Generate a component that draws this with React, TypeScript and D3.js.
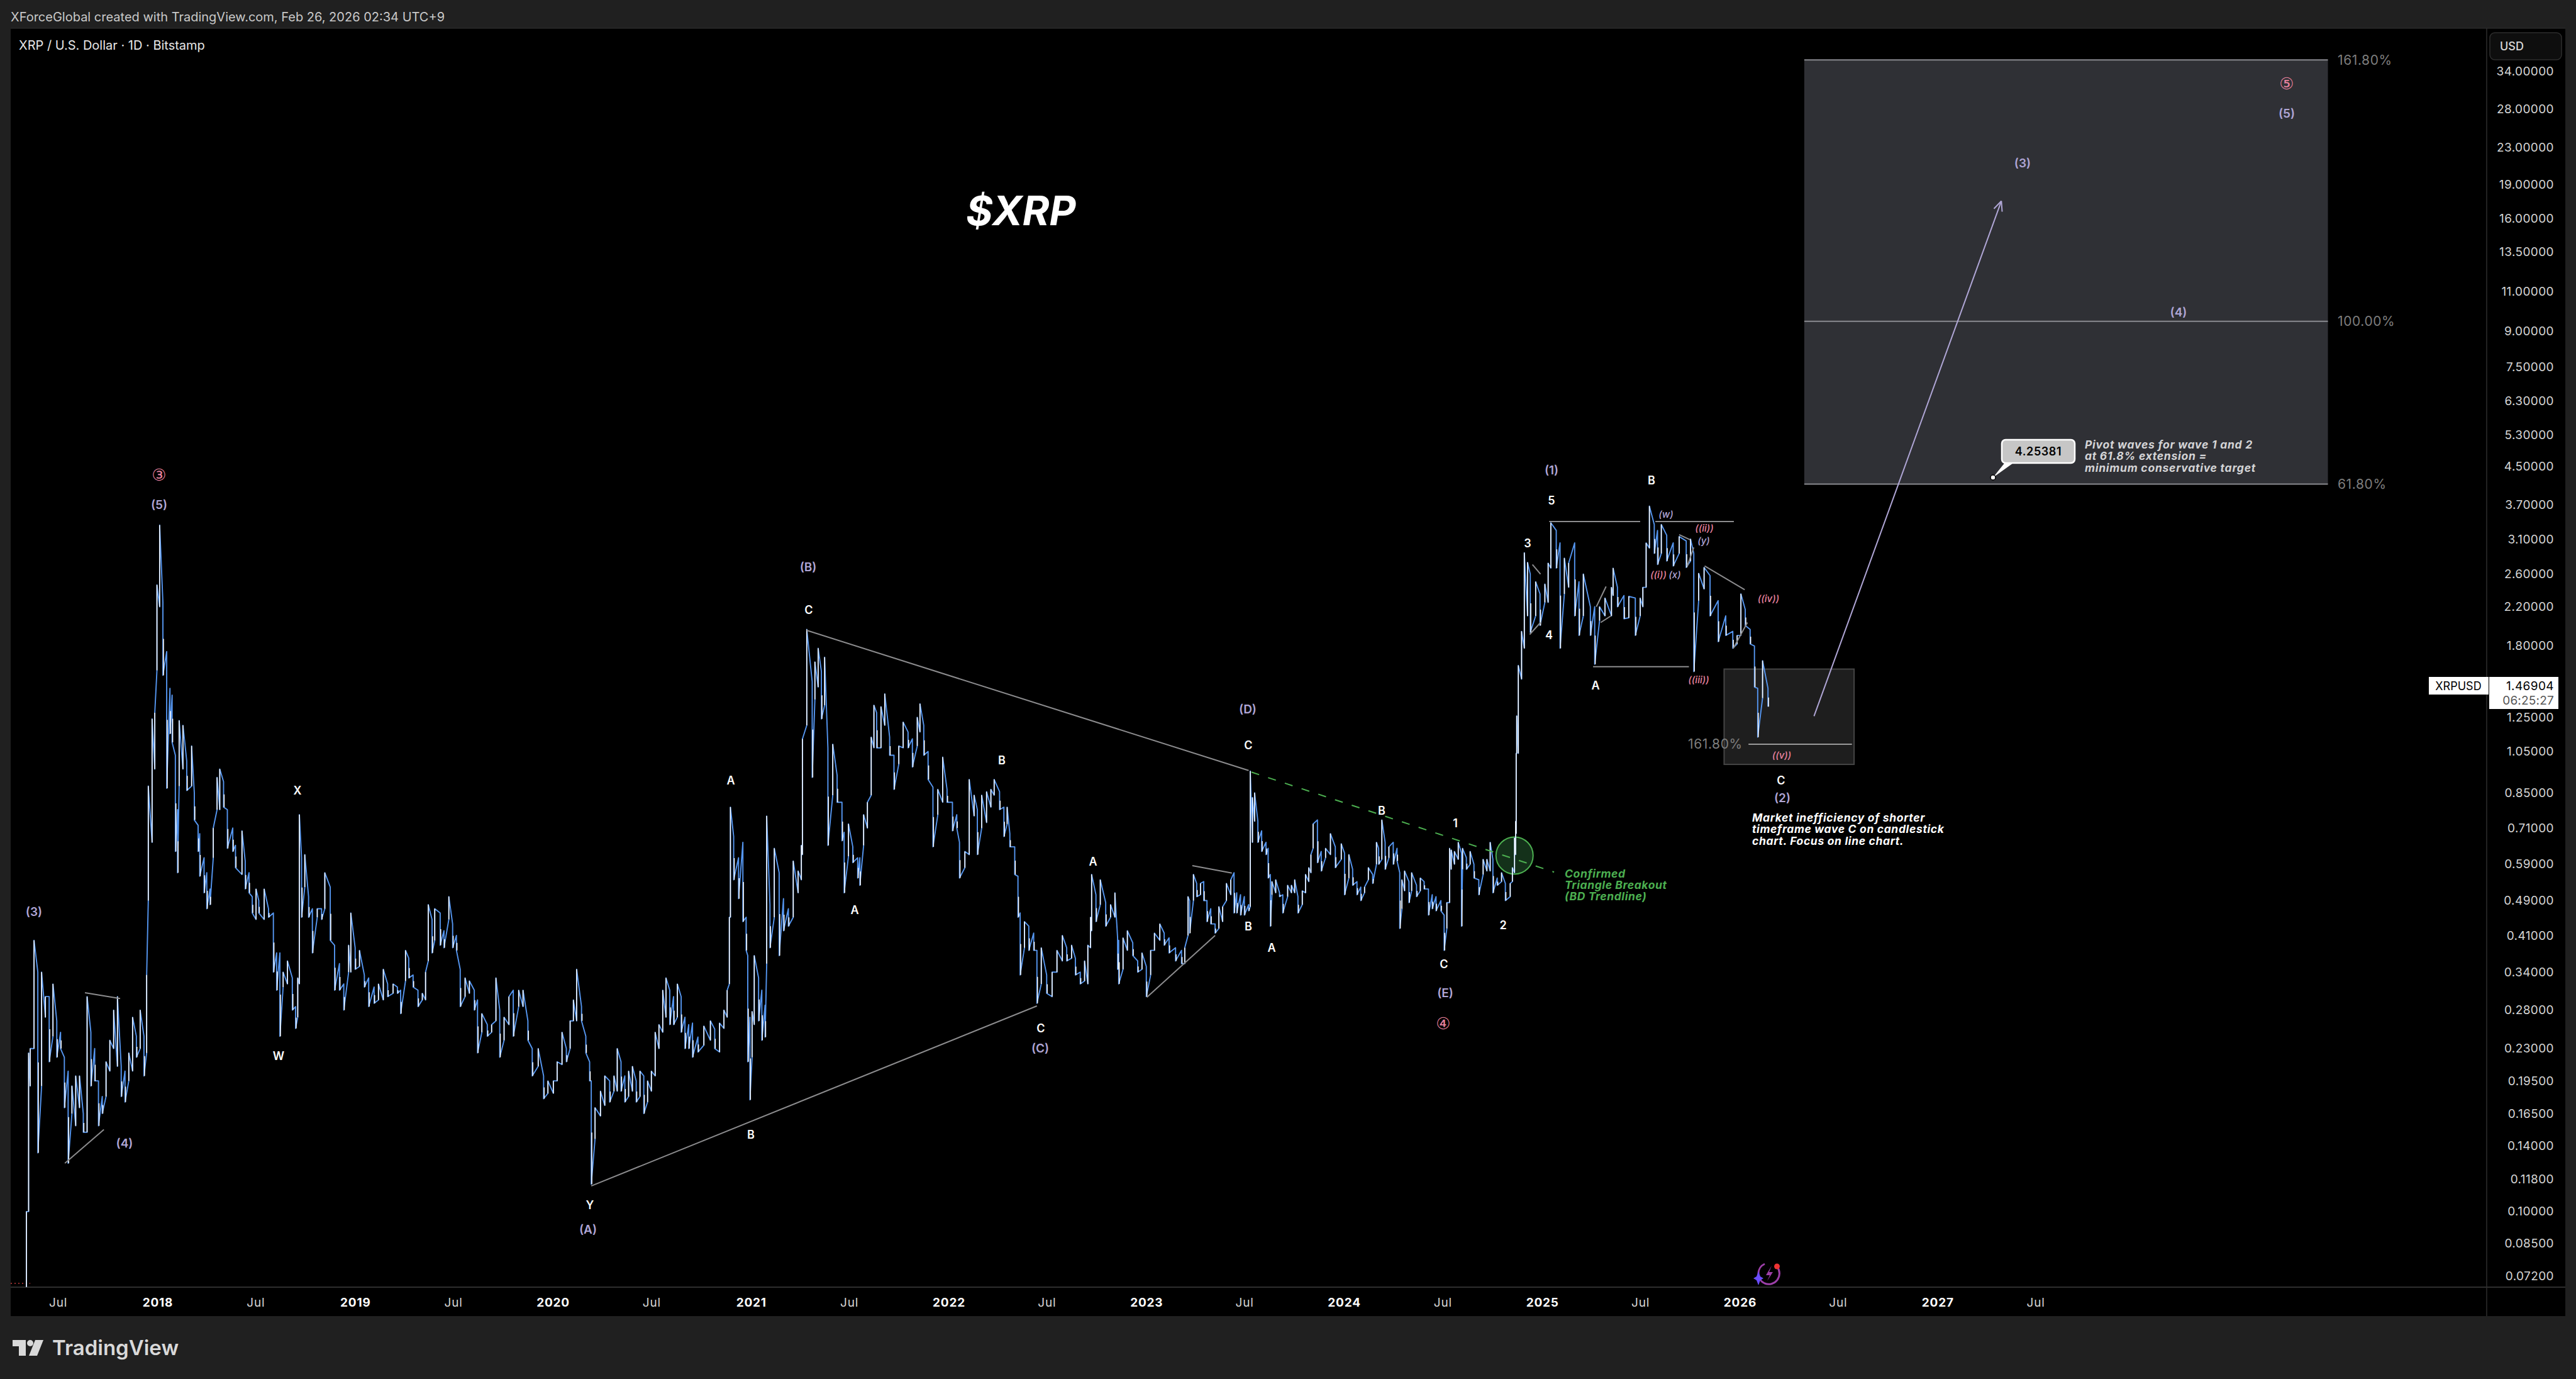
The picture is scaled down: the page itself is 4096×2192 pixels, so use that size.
import React from "react";
import * as d3 from "d3";

// ---------- price data: [days since start of series, high, low] ----------
type Bar = [number, number, number];
const bars2017: Bar[] = [[0,.1,.068],[4,.225,.1],[7,.23,.19],[14,.40,.23],[21,.34,.135],[28,.34,.19],[35,.30,.27],[42,.30,.215],[49,.32,.245],[56,.265,.22],[63,.25,.23],[70,.22,.17],[77,.205,.128],[84,.19,.165],[91,.2,.155],[98,.2,.17],[105,.165,.15],[112,.30,.15],[119,.25,.19],[126,.23,.195],[133,.195,.155],[140,.18,.165],[147,.215,.18],[154,.24,.205],[161,.28,.23],[168,.30,.21],[175,.21,.18],[182,.205,.175],[189,.225,.195],[196,.27,.205],[203,.245,.22],[210,.28,.23],[217,.245,.2],[222,.335,.225],[225,.88,.49],[232,1.24,.66],[237,1.28,.96],[241,2.46,1.59],[246,3.34,2.2]];
const bars2018: Bar[] = [[252,2.25,1.55],[259,1.75,.87],[265,1.45,1.15],[269,1.4,1.1],[275,1.03,.63],[279,.78,.565],[282,1.23,.88],[289,1.2,.96],[296,1.0,.86],[305,1.08,.88],[310,.85,.74],[317,.72,.63],[320,.69,.555],[328,.61,.51],[333,.565,.47],[339,.52,.48],[345,.71,.61],[352,.92,.78],[357,.96,.78],[364,.9,.79],[371,.78,.64],[381,.71,.63],[386,.65,.58],[398,.70,.56],[404,.60,.52],[411,.565,.51],[417,.50,.46],[424,.52,.445],[429,.49,.46],[439,.52,.445],[447,.47,.45],[456,.46,.34],[462,.375,.31],[468,.375,.245],[474,.34,.315],[482,.36,.32],[491,.33,.28],[497,.285,.255],[501,.33,.27],[504,.76,.32],[508,.61,.45],[514,.62,.525],[521,.5,.45],[528,.47,.375],[537,.47,.45],[545,.47,.445],[551,.565,.47],[561,.525,.40],[569,.39,.31],[578,.355,.31],[586,.32,.28],[595,.39,.34],[599,.46,.34],[607,.385,.345]];
const bars2019: Bar[] = [[615,.38,.35],[624,.335,.315],[632,.33,.285],[642,.315,.29],[650,.32,.295],[659,.345,.295],[667,.32,.30],[677,.32,.305],[685,.315,.305],[691,.31,.275],[700,.38,.325],[706,.365,.33],[714,.335,.315],[723,.31,.285],[731,.305,.295],[737,.34,.295],[742,.48,.36],[749,.445,.375],[754,.47,.40],[764,.46,.39],[771,.42,.385],[780,.50,.445],[787,.435,.385],[794,.41,.38],[801,.345,.285],[810,.33,.30],[818,.325,.305],[827,.31,.28],[833,.295,.225],[841,.275,.25],[851,.26,.245],[859,.26,.25],[867,.33,.265],[874,.28,.22],[882,.27,.24],[891,.30,.26],[899,.31,.245],[909,.31,.285],[917,.31,.285],[926,.265,.24],[934,.23,.20],[945,.23,.21],[955,.20,.178],[963,.195,.183]];
const bars2020: Bar[] = [[973,.195,.183],[980,.215,.195],[989,.25,.212],[997,.23,.215],[1004,.265,.23],[1010,.295,.265],[1016,.345,.265],[1025,.285,.265],[1033,.245,.225],[1040,.215,.195],[1043,.195,.115],[1050,.17,.145],[1060,.185,.163],[1068,.20,.172],[1077,.195,.175],[1085,.20,.185],[1091,.23,.185],[1098,.215,.185],[1105,.20,.175],[1112,.205,.18],[1119,.21,.185],[1126,.195,.175],[1133,.205,.18],[1140,.20,.165],[1147,.195,.175],[1154,.205,.185],[1161,.25,.20],[1168,.26,.23],[1175,.31,.25],[1181,.33,.27],[1188,.31,.26],[1195,.30,.26],[1202,.32,.27],[1209,.30,.25],[1216,.27,.23],[1223,.26,.23],[1230,.262,.22],[1240,.244,.226],[1251,.258,.234],[1263,.265,.24],[1271,.254,.23],[1280,.262,.226],[1288,.28,.255],[1294,.31,.27],[1298,.45,.32],[1300,.79,.45],[1306,.68,.545],[1315,.61,.495],[1323,.66,.44],[1329,.45,.38],[1332,.37,.215],[1336,.27,.177],[1340,.278,.22]];
const bars2021: Bar[] = [[1344,.37,.26],[1352,.33,.265],[1358,.31,.24],[1364,.287,.244],[1367,.755,.355],[1373,.48,.385],[1381,.64,.45],[1390,.565,.37],[1398,.495,.42],[1407,.47,.43],[1416,.60,.45],[1425,.57,.51],[1431,.65,.545],[1433,1.12,.62],[1441,1.96,1.2],[1451,1.5,.92],[1456,1.66,1.37],[1462,1.78,1.46],[1468,1.58,1.24],[1474,1.7,1.33],[1480,1.07,.65],[1489,1.09,.84],[1497,.93,.81],[1506,.81,.665],[1510,.695,.51],[1518,.725,.615],[1526,.645,.595],[1535,.61,.55],[1539,.61,.53],[1546,.76,.65],[1553,.81,.71],[1560,1.13,.84],[1565,1.33,1.07],[1570,1.28,1.07],[1578,1.32,1.07],[1585,1.41,1.2],[1594,1.13,1.03],[1602,1.03,.865],[1611,1.08,.985],[1619,1.22,1.07],[1628,1.16,1.07],[1636,1.12,.97],[1645,1.25,1.08],[1650,1.34,1.16],[1657,1.2,1.03],[1665,1.05,.91],[1674,.875,.645],[1683,.865,.76],[1692,1.02,.81]];
const bars2022: Bar[] = [[1700,.865,.81],[1710,.81,.70],[1718,.76,.71],[1723,.66,.55],[1733,.63,.58],[1741,.91,.62],[1750,.84,.755],[1756,.78,.62],[1764,.84,.71],[1773,.855,.73],[1781,.865,.79],[1787,.91,.84],[1797,.855,.78],[1805,.79,.68],[1811,.79,.725],[1816,.69,.645],[1825,.645,.56],[1831,.555,.45],[1835,.46,.335],[1843,.44,.385],[1851,.43,.38],[1860,.415,.38],[1866,.38,.29],[1874,.385,.32],[1884,.335,.305],[1894,.34,.30],[1903,.38,.34],[1913,.41,.36],[1921,.385,.36],[1930,.39,.365],[1937,.365,.335],[1946,.34,.32],[1954,.36,.325],[1960,.39,.32],[1965,.45,.385],[1967,.56,.42],[1975,.505,.44],[1983,.545,.48],[1993,.485,.43],[2002,.48,.45],[2010,.51,.45],[2015,.405,.345],[2017,.40,.32],[2025,.405,.345],[2033,.42,.38],[2043,.395,.37],[2052,.36,.34]];
const bars2023: Bar[] = [[2060,.375,.345],[2068,.35,.30],[2076,.38,.335],[2083,.415,.38],[2093,.435,.40],[2101,.415,.39],[2110,.405,.375],[2122,.385,.36],[2133,.38,.355],[2139,.385,.355],[2145,.50,.41],[2148,.49,.415],[2155,.56,.49],[2161,.535,.50],[2168,.535,.505],[2174,.54,.49],[2180,.49,.44],[2187,.47,.435],[2195,.435,.415],[2202,.475,.425],[2209,.475,.44],[2216,.535,.49],[2224,.545,.505],[2230,.565,.46],[2235,.51,.46],[2242,.505,.455],[2249,.50,.455],[2257,.48,.465],[2260,.95,.475],[2264,.83,.66],[2268,.85,.735],[2274,.735,.66],[2281,.70,.63],[2289,.66,.62],[2293,.64,.55],[2297,.56,.43],[2300,.54,.505],[2307,.545,.51],[2314,.51,.50],[2320,.505,.46],[2329,.53,.50],[2336,.53,.51],[2342,.545,.51],[2348,.50,.46],[2356,.515,.48],[2362,.56,.51],[2368,.58,.54],[2372,.62,.565],[2376,.725,.64],[2384,.74,.595],[2391,.63,.57],[2399,.64,.61]];
const bars2024: Bar[] = [[2408,.69,.62],[2417,.645,.58],[2428,.655,.605],[2434,.625,.505],[2442,.62,.55],[2449,.575,.53],[2457,.54,.505],[2464,.525,.49],[2471,.525,.51],[2478,.58,.545],[2486,.56,.535],[2493,.66,.59],[2497,.64,.59],[2503,.74,.605],[2509,.66,.575],[2516,.645,.61],[2524,.66,.59],[2531,.64,.60],[2536,.565,.425],[2540,.545,.47],[2545,.57,.515],[2553,.54,.485],[2558,.565,.515],[2567,.53,.50],[2574,.55,.515],[2581,.54,.52],[2589,.52,.455],[2596,.505,.47],[2603,.50,.465],[2612,.49,.465],[2618,.455,.38],[2623,.485,.425],[2628,.64,.485],[2631,.635,.575],[2637,.63,.59],[2644,.66,.605],[2650,.625,.43],[2652,.64,.575],[2659,.61,.575],[2666,.63,.59],[2673,.59,.55],[2682,.545,.505],[2690,.605,.56],[2697,.605,.57],[2703,.66,.57],[2708,.605,.51],[2716,.55,.53],[2724,.565,.54],[2731,.535,.49],[2740,.535,.50],[2744,.58,.54],[2748,.675,.565],[2750,.735,.62],[2751,1.04,.69],[2752,1.26,1.04],[2755,1.63,1.04],[2761,1.94,1.52]];
const bars2025: Bar[] = [[2766,2.9,1.78],[2772,2.76,2.1],[2777,2.6,1.93],[2787,2.5,2.1],[2795,2.35,2.0],[2804,2.47,2.25],[2810,2.75,2.25],[2815,3.38,2.68],[2825,3.25,2.68],[2832,3.05,1.78],[2840,2.82,2.35],[2848,2.75,2.43],[2859,3.05,2.1],[2867,2.5,1.9],[2875,2.6,2.1],[2888,2.2,1.9],[2896,2.2,1.64],[2905,2.2,2.05],[2915,2.3,2.1],[2927,2.43,2.1],[2930,2.68,2.33],[2938,2.43,2.2],[2950,2.33,2.07],[2959,2.32,2.08],[2971,2.3,1.9],[2980,2.3,2.1],[2985,2.43,2.2],[2991,3.05,2.43],[2997,3.68,2.97],[3006,3.35,2.89],[3012,3.25,2.73],[3019,3.35,2.89],[3029,3.17,2.78],[3041,3.05,2.71],[3052,3.15,2.89],[3065,3.08,2.69],[3073,3.11,2.78],[3079,2.89,1.58],[3088,2.61,2.27],[3098,2.69,2.41],[3109,2.58,2.1],[3124,2.27,1.84],[3138,2.1,1.9],[3151,1.94,1.78]];
const bars2026: Bar[] = [[3159,1.9,1.82],[3166,2.35,1.9],[3174,2.17,2.0],[3183,1.96,1.82],[3191,1.8,1.46],[3197,1.45,1.13],[3206,1.67,1.38],[3216,1.45,1.32]];
const allBars: Bar[] = [...bars2017, ...bars2018, ...bars2019, ...bars2020, ...bars2021, ...bars2022, ...bars2023, ...bars2024, ...bars2025, ...bars2026];

// ---------- axes ----------
const priceTicks = [34, 28, 23, 19, 16, 13.5, 11, 9, 7.5, 6.3, 5.3, 4.5, 3.7, 3.1, 2.6, 2.2, 1.8, 1.25, 1.05, 0.85, 0.71, 0.59, 0.49, 0.41, 0.34, 0.28, 0.23, 0.195, 0.165, 0.14, 0.118, 0.1, 0.085, 0.072];
const timeTicks: [string, string, boolean][] = [["2017-07-01","Jul",false],["2018-01-01","2018",true],["2018-07-01","Jul",false],["2019-01-01","2019",true],["2019-07-01","Jul",false],["2020-01-01","2020",true],["2020-07-01","Jul",false],["2021-01-01","2021",true],["2021-07-01","Jul",false],["2022-01-01","2022",true],["2022-07-01","Jul",false],["2023-01-01","2023",true],["2023-07-01","Jul",false],["2024-01-01","2024",true],["2024-07-01","Jul",false],["2025-01-01","2025",true],["2025-07-01","Jul",false],["2026-01-01","2026",true],["2026-07-01","Jul",false],["2027-01-01","2027",true],["2027-07-01","Jul",false]];

// ---------- drawings, in chart units: [day, price, day, price] ----------
const trendLines: [number, number, number, number][] = [
  [1441,1.95,2257,.953],[1043,.114,1866,.286],[2069,.299,2195,.41],[2153,.586,2226,.564],[108,.306,173,.297],[71,.128,143,.152],
  [2812,3.4,2980,3.4],[3008,3.4,3153,3.4],[2893,1.62,3070,1.62],[3099,2.71,3173,2.4],[3052,3.18,3072,3.1],[3067,2.71,3079,2.98],
  [2781,2.73,2796,2.6],[2776,1.91,2796,2.03],[2899,2.2,2917,2.44],[2907,2.03,2926,2.1],[3152,1.78,3178,2.03],
];
const breakoutLine = [2262, .945, 2821, .567];
const targetArrow = [3301, 1.258, 3647, 17.5];
const fibBox = { d0: 3283, d1: 4250, levels: [36.0, 9.46, 4.12] };
const dipBox = { d0: 3135, d1: 3375, top: 1.6, bottom: .983, level: 1.09, levelD0: 3180, levelD1: 3371 };
const breakoutCircle = [2748, .617];

const waveWhite: [string, number, number][] = [["W",443,1678],["X",473,1256],["Y",938,1915],["B",1194,1803],["A",1162,1240],["C",1286,969],["A",1359,1446],["B",1593,1208],["C",1655,1634],["A",1738,1369],["C",1985,1184],["B",1985,1472],["A",2022,1506],["B",2197,1288],["1",2314,1308],["C",2296,1532],["2",2390,1470],["5",2467,795],["3",2429,863],["4",2463,1009],["A",2537,1089],["B",2626,763],["C",2832,1240]];
const wavePurple: [string, number, number][] = [["(3)",54,1449],["(4)",198,1817],["(5)",253,802],["(A)",935,1954],["(B)",1285,901],["(C)",1654,1666],["(D)",1984,1127],["(E)",2298,1578],["(1)",2467,747],["(2)",2834,1268],["(3)",3216,259],["(5)",3636,180],["(4)",3464,496]];
const waveMinor: [string, number, number][] = [["(w)",2649,817],["(y)",2709,859],["(x)",2663,913]];
const wavePink: [string, number, number][] = [["((ii))",2710,839],["((i))",2637,913],["((iv))",2812,951],["((iii))",2701,1080],["((v))",2833,1200]];
const waveCircled: [string, number, number][] = [["③",253,755],["④",2295,1627],["⑤",3636,133]];
const marketNote = ["Market inefficiency of shorter", "timeframe wave C on candlestick", "chart. Focus on line chart."];
const breakoutNote = ["Confirmed", "Triangle Breakout", "(BD Trendline)"];
const pivotNote = ["Pivot waves for wave 1 and 2", "at 61.8% extension =", "minimum conservative target"];

const FONT = "Inter, 'Noto Sans', sans-serif";
const BLUE = "#5596f0";
const WHITE = "#ffffff";
const PURPLE = "#b0a6d6";
const PINK = "#e8829f";
const GREEN = "#4caf50";
const GREY = "#8c8c8e";

export default function App() {
  const startDate = new Date(Date.UTC(2017, 4, 3, 8));
  const dayToDate = (d: number) => new Date(startDate.getTime() + d * 86400000);
  const xTime = d3.scaleUtc().domain([new Date(Date.UTC(2018, 0, 1)), new Date(Date.UTC(2026, 0, 1))]).range([251, 2767]);
  const xd = (d: number) => xTime(dayToDate(d));
  const y = d3.scaleLog().domain([34, 0.072]).range([113, 2028]);

  // zig-zag through each bar's high and low
  const zig: [number, number][] = [];
  allBars.forEach(([d, h, l], i) => {
    const prev = i > 0 ? allBars[i - 1] : null;
    const rising = !prev || (h + l) >= (prev[1] + prev[2]);
    if (rising) { zig.push([xd(d), y(l)], [xd(d), y(h)]); }
    else { zig.push([xd(d), y(h)], [xd(d), y(l)]); }
  });
  const zigPath = d3.line()(zig) as string;
  const upPath = allBars.map(([d, h, l], i) => {
    const prev = i > 0 ? allBars[i - 1] : null;
    const rising = !prev || (h + l) >= (prev[1] + prev[2]);
    if (!rising) {
      const m = Math.sqrt(h * l);
      return `M${xd(d) + 0.9},${y(m)}L${xd(d) + 0.9},${y(l)}`;
    }
    return `M${xd(d)},${y(h)}L${xd(d)},${y(l)}`;
  }).join("");

  const lineEl = (k: string, v: number[], color: string, w: number, extra: any = {}) => (
    <line key={k} x1={xd(v[0])} y1={y(v[1])} x2={xd(v[2])} y2={y(v[3])} stroke={color} strokeWidth={w} {...extra} />
  );

  const arrowTip: [number, number] = [xd(targetArrow[2]), y(targetArrow[3])];
  const arrowAng = Math.atan2(y(targetArrow[1]) - arrowTip[1], xd(targetArrow[0]) - arrowTip[0]);
  const arrowHead = [arrowAng - 0.42, arrowAng + 0.42].map((a) => `M${arrowTip[0] + 17 * Math.cos(a)},${arrowTip[1] + 17 * Math.sin(a)}L${arrowTip[0]},${arrowTip[1]}`).join("");

  const fx0 = xd(fibBox.d0), fx1 = xd(fibBox.d1);
  const lx0 = xd(dipBox.d0), lx1 = xd(dipBox.d1);

  const txt = (t: [string, number, number], i: number, fill: string, size: number, weight: number, italic = false, fam = FONT) => (
    <text key={t[0] + i + fill} x={t[1]} y={t[2]} fill={fill} fontSize={size} fontWeight={weight} fontStyle={italic ? "italic" : "normal"} fontFamily={fam} textAnchor="middle" dominantBaseline="central">{t[0]}</text>
  );

  return (
    <svg width={4096} height={2192} viewBox="0 0 4096 2192" style={{ position: "absolute", left: 0, top: 0, display: "block" }}>
      <rect x={0} y={0} width={4096} height={2192} fill="#202020" />
      <rect x={17} y={45} width={4062} height={2047} fill="#000000" />
      <text x={17} y={27} fill="#c9c9c9" fontSize={20} fontFamily={FONT} dominantBaseline="central">XForceGlobal created with TradingView.com, Feb 26, 2026 02:34 UTC+9</text>
      <text x={30} y={72} fill="#e6e6e6" fontSize={20} fontFamily={FONT} dominantBaseline="central">XRP / U.S. Dollar · 1D · Bitstamp</text>

      {/* frames */}
      <line x1={17} x2={4079} y1={45} y2={45} stroke="#333" />
      <line x1={3954} x2={3954} y1={45} y2={2092} stroke="#2e2e2e" strokeWidth={1.5} />
      <line x1={17} x2={4079} y1={2046} y2={2046} stroke="#2e2e2e" strokeWidth={2} />
      <line x1={17} x2={48} y1={2040} y2={2040} stroke="#c23a3a" strokeWidth={1.5} strokeDasharray="2 4" />

      {/* fib box */}
      <rect x={fx0} y={y(fibBox.levels[0])} width={fx1 - fx0} height={y(fibBox.levels[2]) - y(fibBox.levels[0])} fill="#2f3035" />
      {fibBox.levels.map((lv) => <line key={lv} x1={fx0} x2={fx1} y1={y(lv)} y2={y(lv)} stroke="#8a8a90" strokeWidth={2} />)}
      {["161.80%", "100.00%", "61.80%"].map((s, i) => (
        <text key={s} x={3717} y={y(fibBox.levels[i])} fill="#7d7d7d" fontSize={21} letterSpacing={0.6} fontFamily={FONT} dominantBaseline="central">{s}</text>
      ))}

      {/* dip box */}
      <rect x={lx0} y={y(dipBox.top)} width={lx1 - lx0} height={y(dipBox.bottom) - y(dipBox.top)} fill="#1e1e1e" stroke="#454545" strokeWidth={2} />
      <line x1={xd(dipBox.levelD0)} x2={xd(dipBox.levelD1)} y1={y(dipBox.level)} y2={y(dipBox.level)} stroke="#9a9a9a" strokeWidth={2} />
      <text x={2684} y={y(dipBox.level)} fill="#7d7d7d" fontSize={21} letterSpacing={0.6} fontFamily={FONT} dominantBaseline="central">161.80%</text>

      {/* green circle */}
      <circle cx={xd(breakoutCircle[0])} cy={y(breakoutCircle[1])} r={29.5} fill="#14311a" stroke={GREEN} strokeWidth={2} />

      {/* price */}
      <g fill="none" strokeLinejoin="round">
        <path d={zigPath} stroke={BLUE} strokeWidth={1.9} />
        <path d={upPath} stroke={WHITE} strokeWidth={1.5} />
      </g>

      {/* drawings */}
      {trendLines.map((v, i) => lineEl("t" + i, v, GREY, 2))}
      {lineEl("breakout", breakoutLine, GREEN, 2, { strokeDasharray: "13 15" })}
      {lineEl("arrow", targetArrow, PURPLE, 2)}
      <path d={arrowHead} fill="none" stroke={PURPLE} strokeWidth={2} />

      {/* wave labels */}
      {waveWhite.map((t, i) => txt(t, i, "#ffffff", 18, 600))}
      {wavePurple.map((t, i) => txt(t, i, PURPLE, 19, 600))}
      {waveMinor.map((t, i) => txt(t, i, PURPLE, 15, 500, true))}
      {wavePink.map((t, i) => txt(t, i, PINK, 15, 500, true))}
      {waveCircled.map((t, i) => txt(t, i, PINK, 26, 500, false, "'DejaVu Sans', sans-serif"))}

      {/* notes */}
      <text x={1536} y={334} fill="#ffffff" fontSize={65} fontWeight={700} fontStyle="italic" fontFamily={FONT} dominantBaseline="central">$XRP</text>
      {marketNote.map((s, i) => <text key={s} x={2786} y={1299 + i * 18.5} fill="#ffffff" fontSize={17.5} fontWeight={700} fontStyle="italic" letterSpacing={0.65} fontFamily={FONT} dominantBaseline="central">{s}</text>)}
      {breakoutNote.map((s, i) => <text key={s} x={2488} y={1388 + i * 18} fill={GREEN} fontSize={17.5} fontWeight={700} fontStyle="italic" letterSpacing={0.6} fontFamily={FONT} dominantBaseline="central">{s}</text>)}
      {pivotNote.map((s, i) => <text key={s} x={3315} y={706 + i * 18.5} fill="#d4d4d6" fontSize={17.5} fontWeight={700} fontStyle="italic" letterSpacing={0.75} fontFamily={FONT} dominantBaseline="central">{s}</text>)}

      {/* callout */}
      <path d="M3189,734L3169,759L3204,734Z" fill="#ffffff" />
      <rect x={3183} y={699} width={116} height={37} rx={6} fill="#c6c6c6" stroke="#ffffff" strokeWidth={2.5} />
      <circle cx={3169} cy={759} r={4} fill="#ffffff" stroke="#000" strokeWidth={1.5} />
      <text x={3241} y={717} fill="#000" fontSize={18} fontWeight={600} letterSpacing={0.6} fontFamily={FONT} textAnchor="middle" dominantBaseline="central">4.25381</text>

      {/* price axis */}
      <rect x={3959} y={52} width={114} height={43} rx={8} fill="#0e0e0e" stroke="#2e2e2e" strokeWidth={1.5} />
      <text x={3975} y={73} fill="#d8d8d8" fontSize={18} fontWeight={500} fontFamily={FONT} dominantBaseline="central">USD</text>
      {priceTicks.map((p) => (
        <text key={p} x={4061} y={y(p)} fill="#d6d6d6" fontSize={19} letterSpacing={0.4} fontFamily={FONT} textAnchor="end" dominantBaseline="central">{p.toFixed(5)}</text>
      ))}

      {/* last price */}
      <rect x={3862} y={1076} width={95} height={28} fill="#ffffff" />
      <text x={3909} y={1090} fill="#000" fontSize={18} fontFamily={FONT} textAnchor="middle" dominantBaseline="central">XRPUSD</text>
      <rect x={3958} y={1076} width={110} height={51} fill="#ffffff" />
      <text x={4061} y={1090} fill="#000" fontSize={19} letterSpacing={0.4} fontFamily={FONT} textAnchor="end" dominantBaseline="central">1.46904</text>
      <text x={4061} y={1113} fill="#555" fontSize={19} letterSpacing={0.2} fontFamily={FONT} textAnchor="end" dominantBaseline="central">06:25:27</text>

      {/* time axis */}
      {timeTicks.map(([d, s, bold]) => (
        <text key={d} x={xTime(new Date(d + "T00:00:00Z"))} y={2070} fill={bold ? "#ffffff" : "#d6d6d6"} fontSize={19} fontWeight={bold ? 700 : 400} letterSpacing={0.8} fontFamily={FONT} textAnchor="middle" dominantBaseline="central">{s}</text>
      ))}

      {/* spark icon */}
      <path d="M2806,2009A17,17 0 0 0 2806,2040M2826,2014A17,17 0 0 1 2806,2040" fill="none" stroke="#9c3fa8" strokeWidth={3} />
      <path d="M2817,2012L2808,2027L2814,2027L2810,2036L2819,2022L2813,2022Z" fill="#9c3fa8" />
      <path d="M2796,2021L2799,2029L2804,2032L2799,2035L2796,2043L2793,2035L2788,2032L2793,2029Z" fill="#6a4cff" />
      <circle cx={2825.5} cy={2013} r={4.5} fill="#ee3333" />

      {/* logo */}
      <g fill="#d9d9d9">
        <path d="M20,2130H41V2155H30V2140H20Z" />
        <circle cx={48} cy={2135} r={5} />
        <path d="M56,2130H69L59,2155H46Z" />
      </g>
      <text x={83} y={2142} fill="#d9d9d9" fontSize={33} fontWeight={600} fontFamily={FONT} dominantBaseline="central">TradingView</text>
    </svg>
  );
}
